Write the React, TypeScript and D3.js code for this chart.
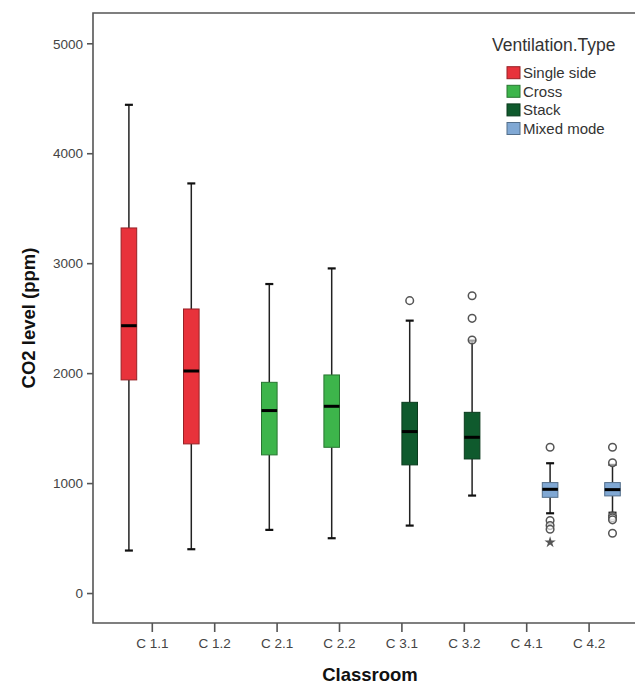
import React from 'react';
import * as d3 from 'd3';

// classrooms and which ventilation type each one belongs to
const classrooms = ['C 1.1', 'C 1.2', 'C 2.1', 'C 2.2', 'C 3.1', 'C 3.2', 'C 4.1', 'C 4.2'];
const ventType = ['Single side', 'Single side', 'Cross', 'Cross', 'Stack', 'Stack', 'Mixed mode', 'Mixed mode'];
const ventTypes = ['Single side', 'Cross', 'Stack', 'Mixed mode'];
const ventColors = ['#e8323b', '#3db54b', '#0f5a2d', '#80a8d4'];

// box statistics (ppm)
const whiskerLow = [391, 403, 579, 503, 618, 891, 730, 735];
const q1 = [1943, 1361, 1261, 1330, 1170, 1224, 875, 888];
const median = [2436, 2024, 1664, 1703, 1473, 1421, 948, 945];
const q3 = [3325, 2588, 1921, 1988, 1739, 1648, 1009, 1009];
const whiskerHigh = [4445, 3730, 2815, 2957, 2482, 2300, 1185, 1170];
const outliers = [[], [], [], [], [2664], [2306, 2503, 2709], [1330, 664, 618, 585], [1330, 1190, 705, 688, 670, 548]];
const extremes = [[], [], [], [], [], [], [466], []];

const yTicks = [0, 1000, 2000, 3000, 4000, 5000];

const W = 635;
const H = 686;
const left = 93;
const right = 660;
const top = 13;
const bottom = 623;
const font = '"Liberation Sans", Arial, sans-serif';

export default function App() {
  const y = d3.scaleLinear().domain([-268, 5280]).range([bottom, top]);
  const x = d3.scalePoint<string>().domain(classrooms).range([152.3, 589.1]);
  const step = x.step();
  const sub = d3.scaleBand<string>().domain(ventTypes).range([-step / 2, step / 2]).padding(0);
  const bw = sub.bandwidth();
  const color = d3.scaleOrdinal<string, string>().domain(ventTypes).range(ventColors);
  const star = d3.symbol().type(d3.symbolStar).size(40)();

  return (
    <svg width={W} height={H} style={{ position: 'absolute', left: 0, top: 0, background: '#fff' }} fontFamily={font}>
      {/* frame: right side runs off the picture */}
      <path d={`M${right},${top}H${left}V${bottom}H${right}`} fill="none" stroke="#555" strokeWidth={1.6} />

      {/* y axis */}
      {yTicks.map(t => (
        <g key={t}>
          <line x1={left - 6} x2={left} y1={y(t)} y2={y(t)} stroke="#555" strokeWidth={1.6} />
          <text x={left - 10} y={y(t)} dy="0.35em" textAnchor="end" fontSize={13.5} fill="#444">{t}</text>
        </g>
      ))}
      <text transform={`translate(29,${(top + bottom) / 2}) rotate(-90)`} textAnchor="middle" dy="0.35em"
        fontSize={18.5} fontWeight="bold" fill="#111">CO2 level (ppm)</text>

      {/* x axis */}
      {classrooms.map(c => (
        <g key={c}>
          <line x1={x(c)} x2={x(c)} y1={bottom} y2={bottom + 9} stroke="#555" strokeWidth={1.6} />
          <text x={x(c)} y={bottom + 20} dy="0.35em" textAnchor="middle" fontSize={13.5} fill="#444">{c}</text>
        </g>
      ))}
      <text x={370} y={675} dy="0.35em" textAnchor="middle" fontSize={18.5} fontWeight="bold" fill="#111">Classroom</text>

      {/* boxes */}
      {classrooms.map((c, i) => {
        const cx = (x(c) as number) + (sub(ventType[i]) as number) + bw / 2;
        const fill = color(ventType[i]);
        const edge = d3.color(fill)!.darker(1.2).toString();
        return (
          <g key={c}>
            <line x1={cx} x2={cx} y1={y(whiskerHigh[i])} y2={y(q3[i])} stroke="#222" strokeWidth={1.5} />
            <line x1={cx} x2={cx} y1={y(q1[i])} y2={y(whiskerLow[i])} stroke="#222" strokeWidth={1.5} />
            <line x1={cx - 4} x2={cx + 4} y1={y(whiskerHigh[i])} y2={y(whiskerHigh[i])} stroke="#111" strokeWidth={2.2} />
            <line x1={cx - 4} x2={cx + 4} y1={y(whiskerLow[i])} y2={y(whiskerLow[i])} stroke="#111" strokeWidth={2.2} />
            <rect x={cx - bw / 2} y={y(q3[i])} width={bw} height={y(q1[i]) - y(q3[i])} fill={fill} stroke={edge} strokeWidth={1} />
            <line x1={cx - bw / 2} x2={cx + bw / 2} y1={y(median[i])} y2={y(median[i])} stroke="#000" strokeWidth={3} />
            {outliers[i].map((v, j) => (
              <circle key={j} cx={cx} cy={y(v)} r={3.8} fill="#fff" fillOpacity={0.6} stroke="#555" strokeWidth={1.5} />
            ))}
            {extremes[i].map((v, j) => (
              <path key={j} d={star as string} transform={`translate(${cx},${y(v)})`} fill="#555" />
            ))}
          </g>
        );
      })}

      {/* legend */}
      <text x={492} y={45} dy="0.35em" fontSize={17.5} fill="#333">Ventilation.Type</text>
      {ventTypes.map((t, i) => (
        <g key={t} transform={`translate(507,${72.7 + i * 18.6})`}>
          <rect x={0} y={-6} width={13} height={12} fill={color(t)} stroke={d3.color(color(t))!.darker(1.2).toString()} />
          <text x={16} y={0} dy="0.35em" fontSize={15} fill="#333">{t}</text>
        </g>
      ))}
    </svg>
  );
}
